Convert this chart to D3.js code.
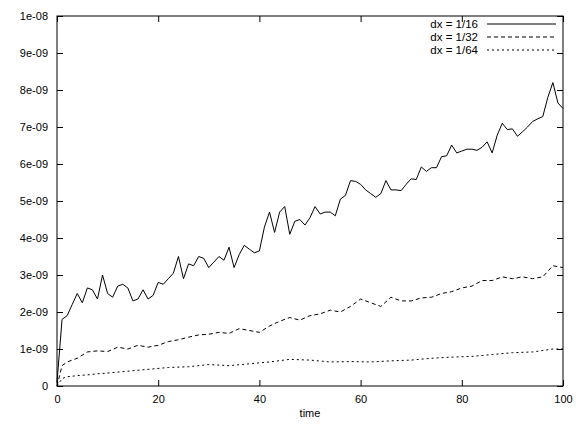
<!DOCTYPE html>
<html><head><meta charset="utf-8">
<script src="https://cdn.jsdelivr.net/npm/d3@7"></script>
<style>body{margin:0;background:#fff}text{font-family:"Liberation Sans",Arial,sans-serif;font-size:11px}</style>
</head><body><svg id="c" width="576" height="427"></svg>
<script>
// values in units of 1e-9
const t16 = [0,1,2,3,4,5,6,7,8,9,10,11,12,13,14,15,16,17,18,19,20,21,22,23,24,25,26,27,28,29,30,31,32,33,34,35,36,37,38,39,40,41,42,43,44,45,46,47,48,49,50,51,52,53,54,55,56,57,58,59,60,61,62,63,64,65,66,67,68,69,70,71,72,73,74,75,76,77,78,79,80,81,82,83,84,85,86,87,88,89,90,91,92,93,94,95,96,97,98,99,100];
const v16 = [0.1,1.8,1.9,2.2,2.5,2.25,2.65,2.6,2.35,3.0,2.5,2.4,2.7,2.75,2.65,2.3,2.35,2.6,2.35,2.45,2.8,2.75,2.9,3.05,3.5,2.9,3.3,3.25,3.5,3.45,3.2,3.35,3.5,3.4,3.75,3.2,3.55,3.8,3.7,3.6,3.65,4.3,4.7,4.15,4.7,4.85,4.1,4.45,4.5,4.35,4.55,4.85,4.65,4.7,4.7,4.6,5.05,5.15,5.55,5.53,5.45,5.3,5.2,5.1,5.2,5.55,5.3,5.3,5.28,5.45,5.6,5.58,5.92,5.8,5.9,5.9,6.2,6.22,6.51,6.3,6.35,6.4,6.4,6.37,6.45,6.6,6.3,6.78,7.1,6.93,6.95,6.75,6.87,7.0,7.15,7.22,7.28,7.8,8.2,7.65,7.5];
const t32 = [0,1,2,4,6,8,10,12,14,16,18,20,22,24,26,28,30,32,34,36,38,40,42,44,46,48,50,52,54,56,58,60,62,64,66,68,70,72,74,76,78,80,82,84,86,88,90,92,94,96,98,100];
const v32 = [0,0.55,0.65,0.75,0.92,0.95,0.93,1.05,1.0,1.1,1.05,1.1,1.2,1.25,1.32,1.38,1.4,1.45,1.42,1.55,1.5,1.45,1.62,1.75,1.85,1.78,1.9,1.95,2.05,2.0,2.15,2.35,2.25,2.15,2.4,2.3,2.3,2.38,2.4,2.5,2.55,2.65,2.7,2.85,2.85,2.95,2.9,2.95,2.9,2.95,3.25,3.2];
const t64 = [0,1,2,4,6,8,10,14,18,22,26,30,34,38,42,46,50,54,58,62,66,70,74,78,82,86,90,94,98,100];
const v64 = [0,0.2,0.25,0.28,0.3,0.33,0.35,0.4,0.45,0.5,0.52,0.58,0.55,0.6,0.65,0.72,0.7,0.65,0.66,0.65,0.68,0.7,0.75,0.78,0.8,0.85,0.9,0.92,1.0,1.0];
const yTicks = [0,1,2,3,4,5,6,7,8,9,10];
const xTicks = [0,20,40,60,80,100];
const series = [
  {name:"dx = 1/16", t:t16, v:v16, dash:null},
  {name:"dx = 1/32", t:t32, v:v32, dash:"4,3"},
  {name:"dx = 1/64", t:t64, v:v64, dash:"2,3"}
];

const svg = d3.select("#c");
const L=57, R=563, T=16, B=386;
const x = d3.scaleLinear().domain([0,100]).range([L,R]);
const y = d3.scaleLinear().domain([0,10]).range([B,T]);

const fmt = d => d===0 ? "0" : d===10 ? "1e-08" : d+"e-09";
svg.append("g").attr("transform",`translate(${L},0)`)
  .call(d3.axisLeft(y).tickValues(yTicks).tickFormat(fmt).tickSize(-6).tickPadding(9));
svg.append("g").attr("transform",`translate(${R},0)`)
  .call(d3.axisRight(y).tickValues(yTicks).tickFormat("").tickSize(-6));
svg.append("g").attr("transform",`translate(0,${B})`)
  .call(d3.axisBottom(x).tickValues(xTicks).tickSize(-6).tickPadding(9));
svg.append("g").attr("transform",`translate(0,${T})`)
  .call(d3.axisTop(x).tickValues(xTicks).tickFormat("").tickSize(-6));
svg.selectAll(".domain").remove();
svg.selectAll(".tick text").attr("fill","#000").style("font-size","11px");
svg.append("rect").attr("x",L).attr("y",T).attr("width",R-L).attr("height",B-T)
  .attr("fill","none").attr("stroke","#000");

const line = d3.line().x(d=>x(d[0])).y(d=>y(d[1]));
series.forEach((s,i)=>{
  svg.append("path").datum(s.t.map((t,j)=>[t,s.v[j]]))
    .attr("d",line).attr("fill","none").attr("stroke","#000").attr("stroke-width",1)
    .attr("stroke-dasharray",s.dash);
  const ly = 24 + i*13;
  svg.append("text").attr("x",478).attr("y",ly+4).attr("text-anchor","end")
    .style("font-size","11.5px").text(s.name);
  svg.append("line").attr("x1",487).attr("x2",556).attr("y1",ly).attr("y2",ly)
    .attr("stroke","#000").attr("stroke-dasharray",s.dash);
});
svg.append("text").attr("x",(L+R)/2).attr("y",417).attr("text-anchor","middle").text("time");
</script></body></html>
